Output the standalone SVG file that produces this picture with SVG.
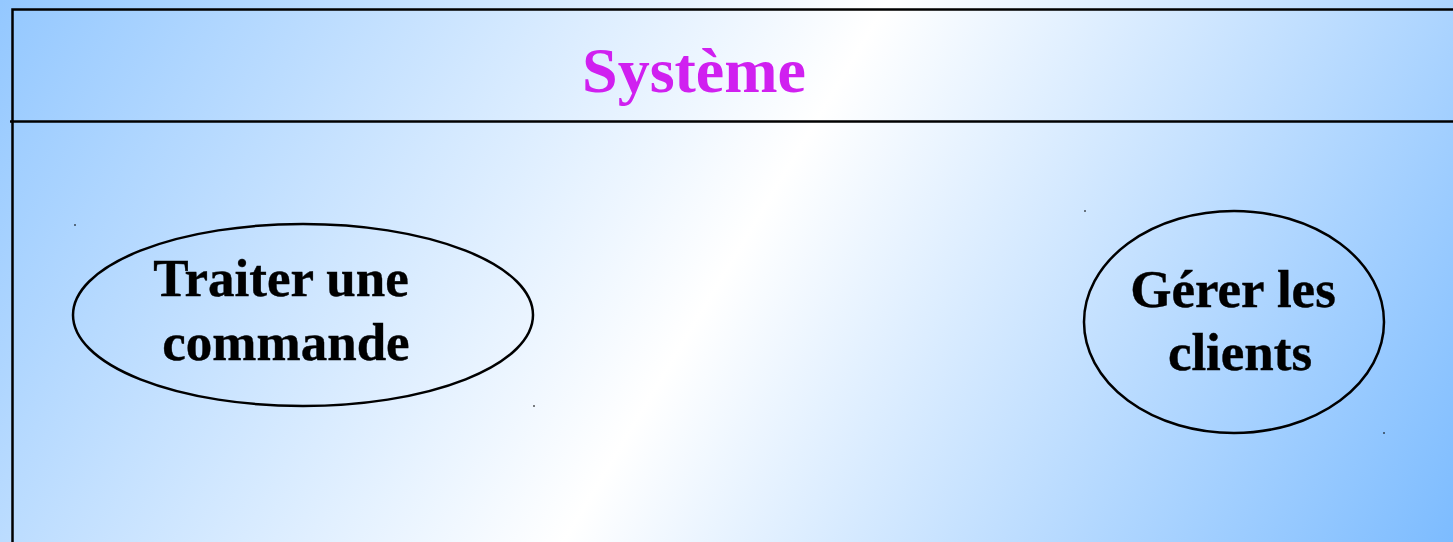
<svg xmlns="http://www.w3.org/2000/svg" width="1453" height="542" viewBox="0 0 1453 542">
<defs>
<linearGradient id="bg" gradientUnits="userSpaceOnUse" x1="74" y1="-120" x2="1378" y2="662">
<stop offset="0" stop-color="#94c8ff"/>
<stop offset="0.5" stop-color="#ffffff"/>
<stop offset="1" stop-color="#7dbcff"/>
</linearGradient>
</defs>
<style>
.frame{fill:none;stroke:#000;stroke-width:2.5}
.uc{fill:none;stroke:#000;stroke-width:2.5}
.lbl{font-family:"Liberation Serif","Times New Roman",serif;font-weight:bold;font-size:53px;fill:#000;text-anchor:middle;stroke:#000;stroke-width:0.4}
.title{font-family:"Liberation Serif","Times New Roman",serif;font-weight:bold;font-size:64px;fill:#d020f0;text-anchor:middle}
.h{fill:#000}
</style>
<rect x="0" y="0" width="1453" height="542" fill="url(#bg)"/>
<g id="system">
<path class="frame" d="M1453 9.5 H12.5 V542"/>
<path class="frame" d="M10 121.5 H1453"/>
<text class="title" x="694" y="92">Système</text>
</g>
<g id="uc1">
<ellipse class="uc" cx="303" cy="315" rx="230" ry="91"/>
<text class="lbl" x="281" y="296">Traiter une</text>
<text class="lbl" x="286" y="360">commande</text>
<rect class="h" x="74.5" y="224" width="1" height="2"/>
<rect class="h" x="533.5" y="405" width="1" height="2"/>
</g>
<g id="uc2">
<ellipse class="uc" cx="1234" cy="322" rx="150" ry="111"/>
<text class="lbl" x="1233" y="307">Gérer les</text>
<text class="lbl" x="1240" y="370">clients</text>
<rect class="h" x="1084.5" y="210" width="1" height="2"/>
<rect class="h" x="1383.5" y="432" width="1" height="2"/>
</g>
<g id="connectors"></g>
</svg>
